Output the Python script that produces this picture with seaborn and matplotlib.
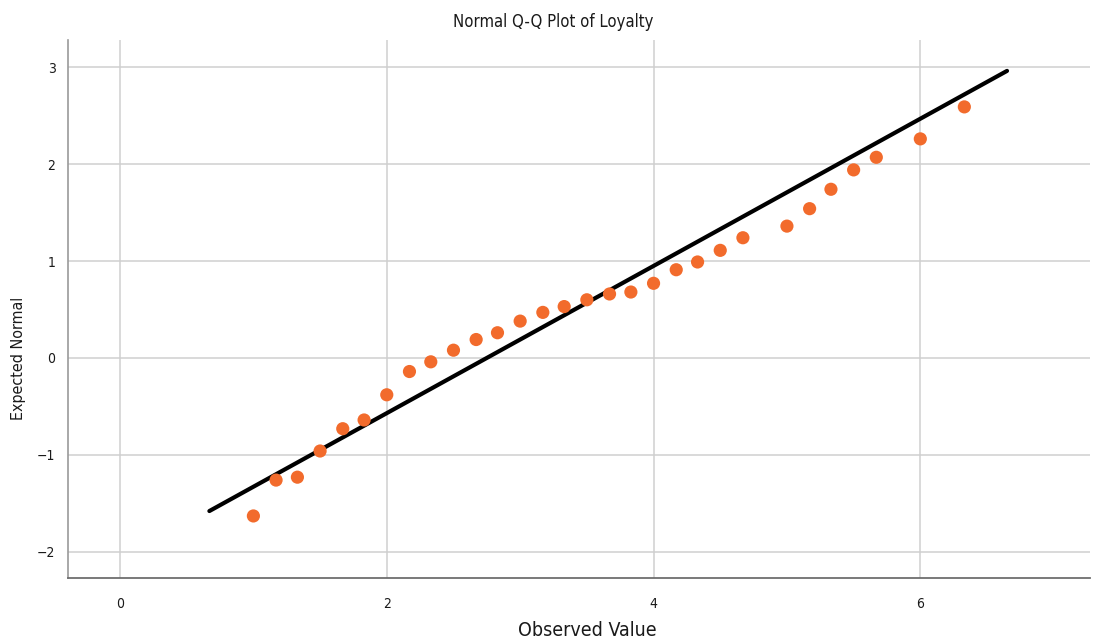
import numpy as np
import pandas as pd
import matplotlib
matplotlib.use("Agg")
import matplotlib.pyplot as plt
import seaborn as sns

# Observed loyalty scores and their expected normal quantiles
observed = [1.00, 1.17, 1.33, 1.50, 1.67, 1.83, 2.00, 2.17, 2.33, 2.50,
            2.67, 2.83, 3.00, 3.17, 3.33, 3.50, 3.67, 3.83, 4.00, 4.17,
            4.33, 4.50, 4.67, 5.00, 5.17, 5.33, 5.50, 5.67, 6.00, 6.33]
expected = [-1.63, -1.26, -1.23, -0.96, -0.73, -0.64, -0.38, -0.14, -0.04, 0.08,
            0.19, 0.26, 0.38, 0.47, 0.53, 0.60, 0.66, 0.68, 0.77, 0.91,
            0.99, 1.11, 1.24, 1.36, 1.54, 1.74, 1.94, 2.07, 2.26, 2.59]

# Reference normal line parameters
line_mean = 2.75
line_sd = 1.317
line_x = [0.67, 6.65]

xticks = [0, 2, 4, 6]
yticks = [-2, -1, 0, 1, 2, 3]

sns.set_theme(style="white")
plt.rcParams["font.family"] = ["DejaVu Sans"]
plt.rcParams["font.stretch"] = "condensed"
TXT = "#1a1a1a"

fig = plt.figure(figsize=(10.93, 6.41), dpi=100)
ax = fig.add_axes([0.0622, 0.0983, 0.9348, 0.8393])

pts = pd.DataFrame({"Observed": observed, "Expected": expected})
line_df = pd.DataFrame({"x": line_x,
                        "y": [(v - line_mean) / line_sd for v in line_x]})

sns.lineplot(data=line_df, x="x", y="y", ax=ax, color="black",
             linewidth=3.0, zorder=3)
sns.scatterplot(data=pts, x="Observed", y="Expected", ax=ax,
                color="#F26B2C", s=90, edgecolor="none", zorder=4)

ax.set_xlim(-0.39, 7.27)
ax.set_ylim(-2.27, 3.28)
ax.set_xticks(xticks)
ax.set_yticks(yticks)
ax.set_xticklabels([str(t) for t in xticks], fontsize=10, color=TXT)
ax.set_yticklabels([str(t).replace("-", "\u2212") for t in yticks],
                   fontsize=10, color=TXT)
ax.tick_params(axis="x", length=0, pad=14)
ax.tick_params(axis="y", length=0, pad=9)

ax.grid(True, color="#cfcfcf", linewidth=1.1)
ax.set_axisbelow(True)
for side in ["top", "right"]:
    ax.spines[side].set_visible(False)
ax.spines["left"].set_color("#9a9a9a")
ax.spines["left"].set_linewidth(1.2)
ax.spines["bottom"].set_color("#6e6e6e")
ax.spines["bottom"].set_linewidth(1.3)

ax.set_xlabel("")
ax.set_ylabel("")
fig.text(0.537, 0.017, "Observed Value", ha="center", va="center",
         fontsize=14, color=TXT)
fig.text(0.0165, 0.441, "Expected Normal", ha="center", va="center",
         rotation=90, fontsize=11.5, color=TXT)
fig.text(0.506, 0.966, "Normal Q-Q Plot of Loyalty", ha="center", va="center",
         fontsize=12, color=TXT)

fig.savefig("out.png", dpi=100, facecolor="white")
